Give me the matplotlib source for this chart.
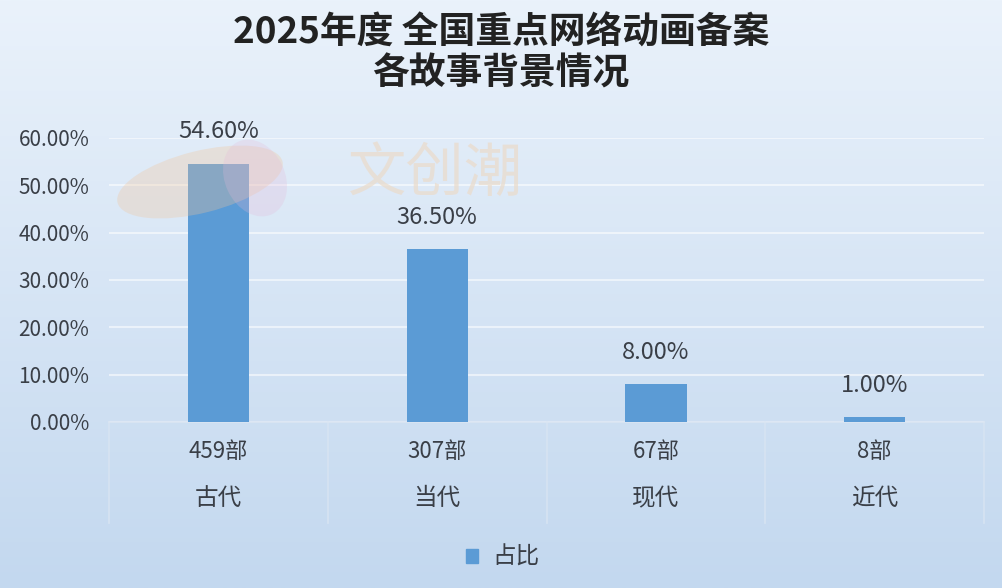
import numpy as np
import matplotlib
matplotlib.use("Agg")
import matplotlib.pyplot as plt
from matplotlib.patches import Ellipse, Rectangle

plt.rcParams["font.family"] = ["Noto Sans CJK SC", "DejaVu Sans"]

categories = ["古代", "当代", "现代", "近代"]
counts = ["459部", "307部", "67部", "8部"]
shares = [54.60, 36.50, 8.00, 1.00]

TEXT = "#3a3f47"
BAR = "#5b9bd5"
W, H = 1002, 588

fig = plt.figure(figsize=(10.02, 5.88), dpi=100)

# background gradient
bg = fig.add_axes([0, 0, 1, 1], zorder=-10)
grad = np.linspace(0, 1, 256).reshape(-1, 1)
cmap = matplotlib.colors.LinearSegmentedColormap.from_list("bg", ["#eaf2fb", "#c3d8ef"])
bg.imshow(grad, aspect="auto", cmap=cmap, extent=[0, 1, 0, 1], origin="upper")
bg.set_axis_off()

ax = fig.add_axes([109 / W, 1 - 422 / H, 875 / W, 284 / H])
ax.patch.set_alpha(0)
x = np.arange(len(categories))
ax.bar(x, shares, width=0.28, color=BAR, zorder=3)
ax.set_xlim(-0.5, len(categories) - 0.5)
ax.set_ylim(0, 60)
ax.set_yticks(np.arange(0, 61, 10))
ax.set_yticklabels([f"{v:.2f}%" for v in np.arange(0, 61, 10)])
ax.tick_params(axis="y", length=0, pad=14, labelsize=15, labelcolor=TEXT)
ax.set_xticks([])
ax.grid(axis="y", color="white", lw=1.5, alpha=0.55, zorder=0)
for s in ["top", "right", "left"]:
    ax.spines[s].set_visible(False)
ax.spines["bottom"].set_color("#dbe6f3")
ax.spines["bottom"].set_linewidth(1.2)

for xi, v in zip(x, shares):
    ax.annotate(f"{v:.2f}%", (xi, v), xytext=(0, 23), textcoords="offset points",
                ha="center", va="center", fontsize=17, color=TEXT)

# category table below the axis
trans = ax.get_xaxis_transform()
for xi, c, n in zip(x, categories, counts):
    ax.text(xi, -0.105, n, transform=trans, ha="center", va="center",
            fontsize=16, color=TEXT, clip_on=False)
    ax.text(xi, -0.27, c, transform=trans, ha="center", va="center",
            fontsize=17, color=TEXT, clip_on=False)
for b in np.arange(-0.5, len(categories), 1.0):
    ax.plot([b, b], [0, -0.355], transform=trans, color="#d6e3f2", lw=1.2,
            clip_on=False)

# watermark on top, faint
wm = fig.add_axes([0, 0, 1, 1], zorder=5)
wm.set_xlim(0, W)
wm.set_ylim(H, 0)
wm.set_axis_off()
wm.patch.set_alpha(0)
wm.add_patch(Ellipse((200, 182), 170, 62, angle=-14, color="#f2c49a", alpha=0.3, lw=0))
wm.add_patch(Ellipse((255, 178), 60, 80, angle=-25, color="#e4b8d8", alpha=0.25, lw=0))
wm.text(435, 174, "文创潮", fontsize=42, color="#eadccd", alpha=0.75,
        ha="center", va="center")

# legend
fig.patches.append(Rectangle((466 / W, 1 - 563 / H), 12 / W, 14 / H,
                             transform=fig.transFigure, color=BAR))
fig.text(492 / W, 1 - 557 / H, "占比", fontsize=17, color=TEXT, ha="left", va="center")

fig.text(0.5, 1 - 33 / H, "2025年度 全国重点网络动画备案", fontsize=26.5, fontweight="bold",
         color="#222222", ha="center", va="center")
fig.text(0.5, 1 - 74 / H, "各故事背景情况", fontsize=26.5, fontweight="bold",
         color="#222222", ha="center", va="center")

fig.savefig("out.png", dpi=100)
